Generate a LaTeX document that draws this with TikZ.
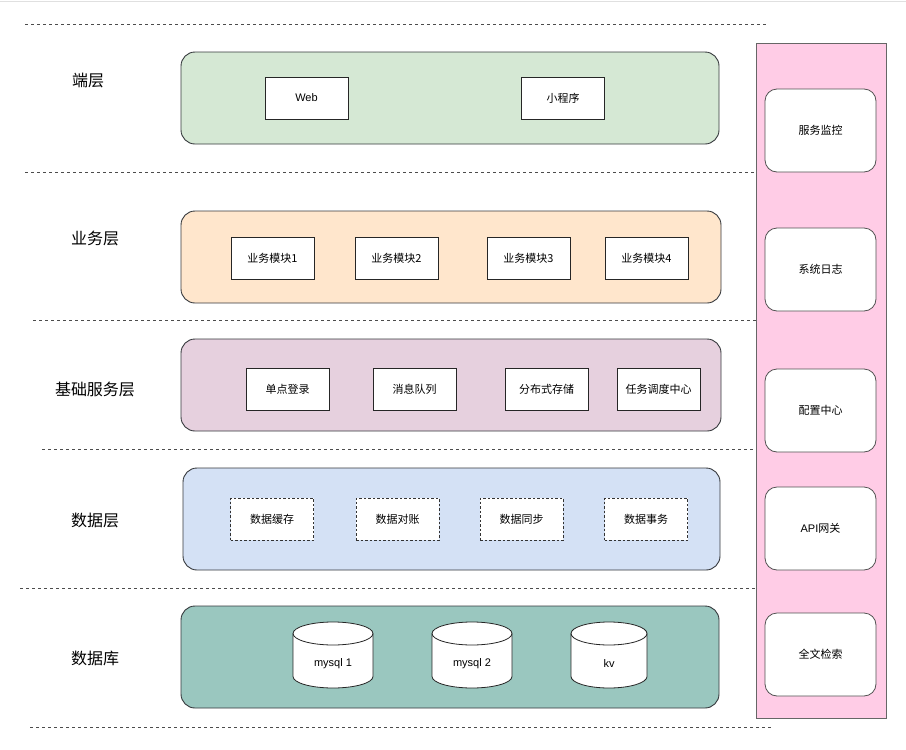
\documentclass[tikz,border=0pt]{standalone}
\usepackage{fontspec}
\setmainfont{Liberation Sans}
\newfontfamily\cjk{Noto Sans CJK SC}
\definecolor{cgreen}{HTML}{D5E8D4}
\definecolor{corange}{HTML}{FFE6CC}
\definecolor{cpurple}{HTML}{E6D0DE}
\definecolor{cblue}{HTML}{D4E1F5}
\definecolor{cteal}{HTML}{9AC7BF}
\definecolor{cpink}{HTML}{FFCCE6}
\definecolor{cstroke}{HTML}{36393D}
\definecolor{cgray}{HTML}{666666}
\begin{document}
\begin{tikzpicture}[x=1pt,y=-1pt,
  layer/.style={draw=cstroke, line width=0.9pt, rounded corners=14pt, inner sep=0pt},
  itembox/.style={draw=black!85, fill=white, line width=0.8pt, inner sep=0pt, minimum width=83pt, minimum height=42pt, font=\cjk\fontsize{11}{13}\selectfont},
  dbox/.style={itembox, dashed, dash pattern=on 2.5pt off 2pt, draw=black!80},
  sidebox/.style={draw=cgray!80!black, fill=white, line width=0.8pt, rounded corners=12pt, inner sep=0pt, minimum width=111pt, minimum height=83pt, font=\cjk\fontsize{11}{13}\selectfont},
  lbl/.style={font=\cjk\fontsize{16}{19}\selectfont, inner sep=0pt},
  sep/.style={draw=black!70, line width=0.8pt, dash pattern=on 3pt off 3pt},
  cyl/.style={draw=black!85, fill=white, line width=0.8pt},
  cyltext/.style={font=\fontsize{11}{13}\selectfont, inner sep=0pt}
]
\useasboundingbox (0,0) rectangle (906,750);
\fill[white] (0,0) rectangle (906,750);
\draw[black!12, line width=1pt] (0,1) -- (906,1);

% separators
\draw[sep] (25,24) -- (768,24);
\draw[sep] (25,172) -- (756,172);
\draw[sep] (33,320) -- (756,320);
\draw[sep] (42,449.5) -- (756,449.5);
\draw[sep] (20,588.5) -- (756,588.5);
\draw[sep] (30,727.5) -- (772,727.5);

% side column
\node[draw=cgray, fill=cpink, line width=0.9pt, inner sep=0pt, minimum width=130pt, minimum height=675pt] (side) at (821,380.5) {};
\node[sidebox] (s1) at (820.5,130.5) {服务监控};
\node[sidebox] (s2) at (820.5,269.5) {系统日志};
\node[sidebox] (s3) at (820.5,410.5) {配置中心};
\node[sidebox] (s4) at (820.5,528.5) {\fontspec{Liberation Sans}API\cjk 网关};
\node[sidebox] (s5) at (820.5,654.5) {全文检索};

% layer labels
\node[lbl] (l1) at (88,81) {端层};
\node[lbl] (l2) at (95,238) {业务层};
\node[lbl] (l3) at (95,389) {基础服务层};
\node[lbl] (l4) at (95,520) {数据层};
\node[lbl] (l5) at (95,658) {数据库};

% layer boxes
\node[layer, fill=cgreen, minimum width=538pt, minimum height=92pt] (g1) at (450,98) {};
\node[layer, fill=corange, minimum width=540pt, minimum height=92pt] (g2) at (451,257) {};
\node[layer, fill=cpurple, minimum width=540pt, minimum height=92pt] (g3) at (451,385) {};
\node[layer, fill=cblue, minimum width=537pt, minimum height=102pt] (g4) at (451.5,519) {};
\node[layer, fill=cteal, minimum width=538pt, minimum height=102pt] (g5) at (450,657) {};

% 端层
\node[itembox, font=\fontsize{11}{13}\selectfont] (web) at (306.5,98) {Web};
\node[itembox] (mini) at (563,98) {小程序};

% 业务层
\node[itembox] (b1) at (272.5,258) {业务模块1};
\node[itembox] (b2) at (396.5,258) {业务模块2};
\node[itembox] (b3) at (528.5,258) {业务模块3};
\node[itembox] (b4) at (646.5,258) {业务模块4};

% 基础服务层
\node[itembox] (f1) at (287.5,389.5) {单点登录};
\node[itembox] (f2) at (414.5,389.5) {消息队列};
\node[itembox] (f3) at (546.5,389.5) {分布式存储};
\node[itembox] (f4) at (658.5,389.5) {任务调度中心};

% 数据层
\node[dbox] (d1) at (272,519) {数据缓存};
\node[dbox] (d2) at (397.5,519) {数据对账};
\node[dbox] (d3) at (521.5,519) {数据同步};
\node[dbox] (d4) at (646,519) {数据事务};

% 数据库 cylinders
\foreach \xa/\xb/\nm in {293/373/c1, 432/512/c2, 571/647/c3}{
  \pgfmathsetmacro{\rx}{(\xb-\xa)/2}
  \draw[cyl] (\xa,633.5) -- (\xa,676.5) arc[start angle=180, end angle=360, x radius=\rx pt, y radius=11.5pt]
     -- (\xb,633.5) arc[start angle=0, end angle=180, x radius=\rx pt, y radius=11.5pt] -- cycle;
  \draw[cyl, fill=none] (\xa,633.5) arc[start angle=180, end angle=360, x radius=\rx pt, y radius=11.5pt];
}
\node[cyltext] (m1) at (333,664) {mysql 1};
\node[cyltext] (m2) at (472,664) {mysql 2};
\node[cyltext] (m3) at (609,664) {kv};
\end{tikzpicture}
\end{document}
